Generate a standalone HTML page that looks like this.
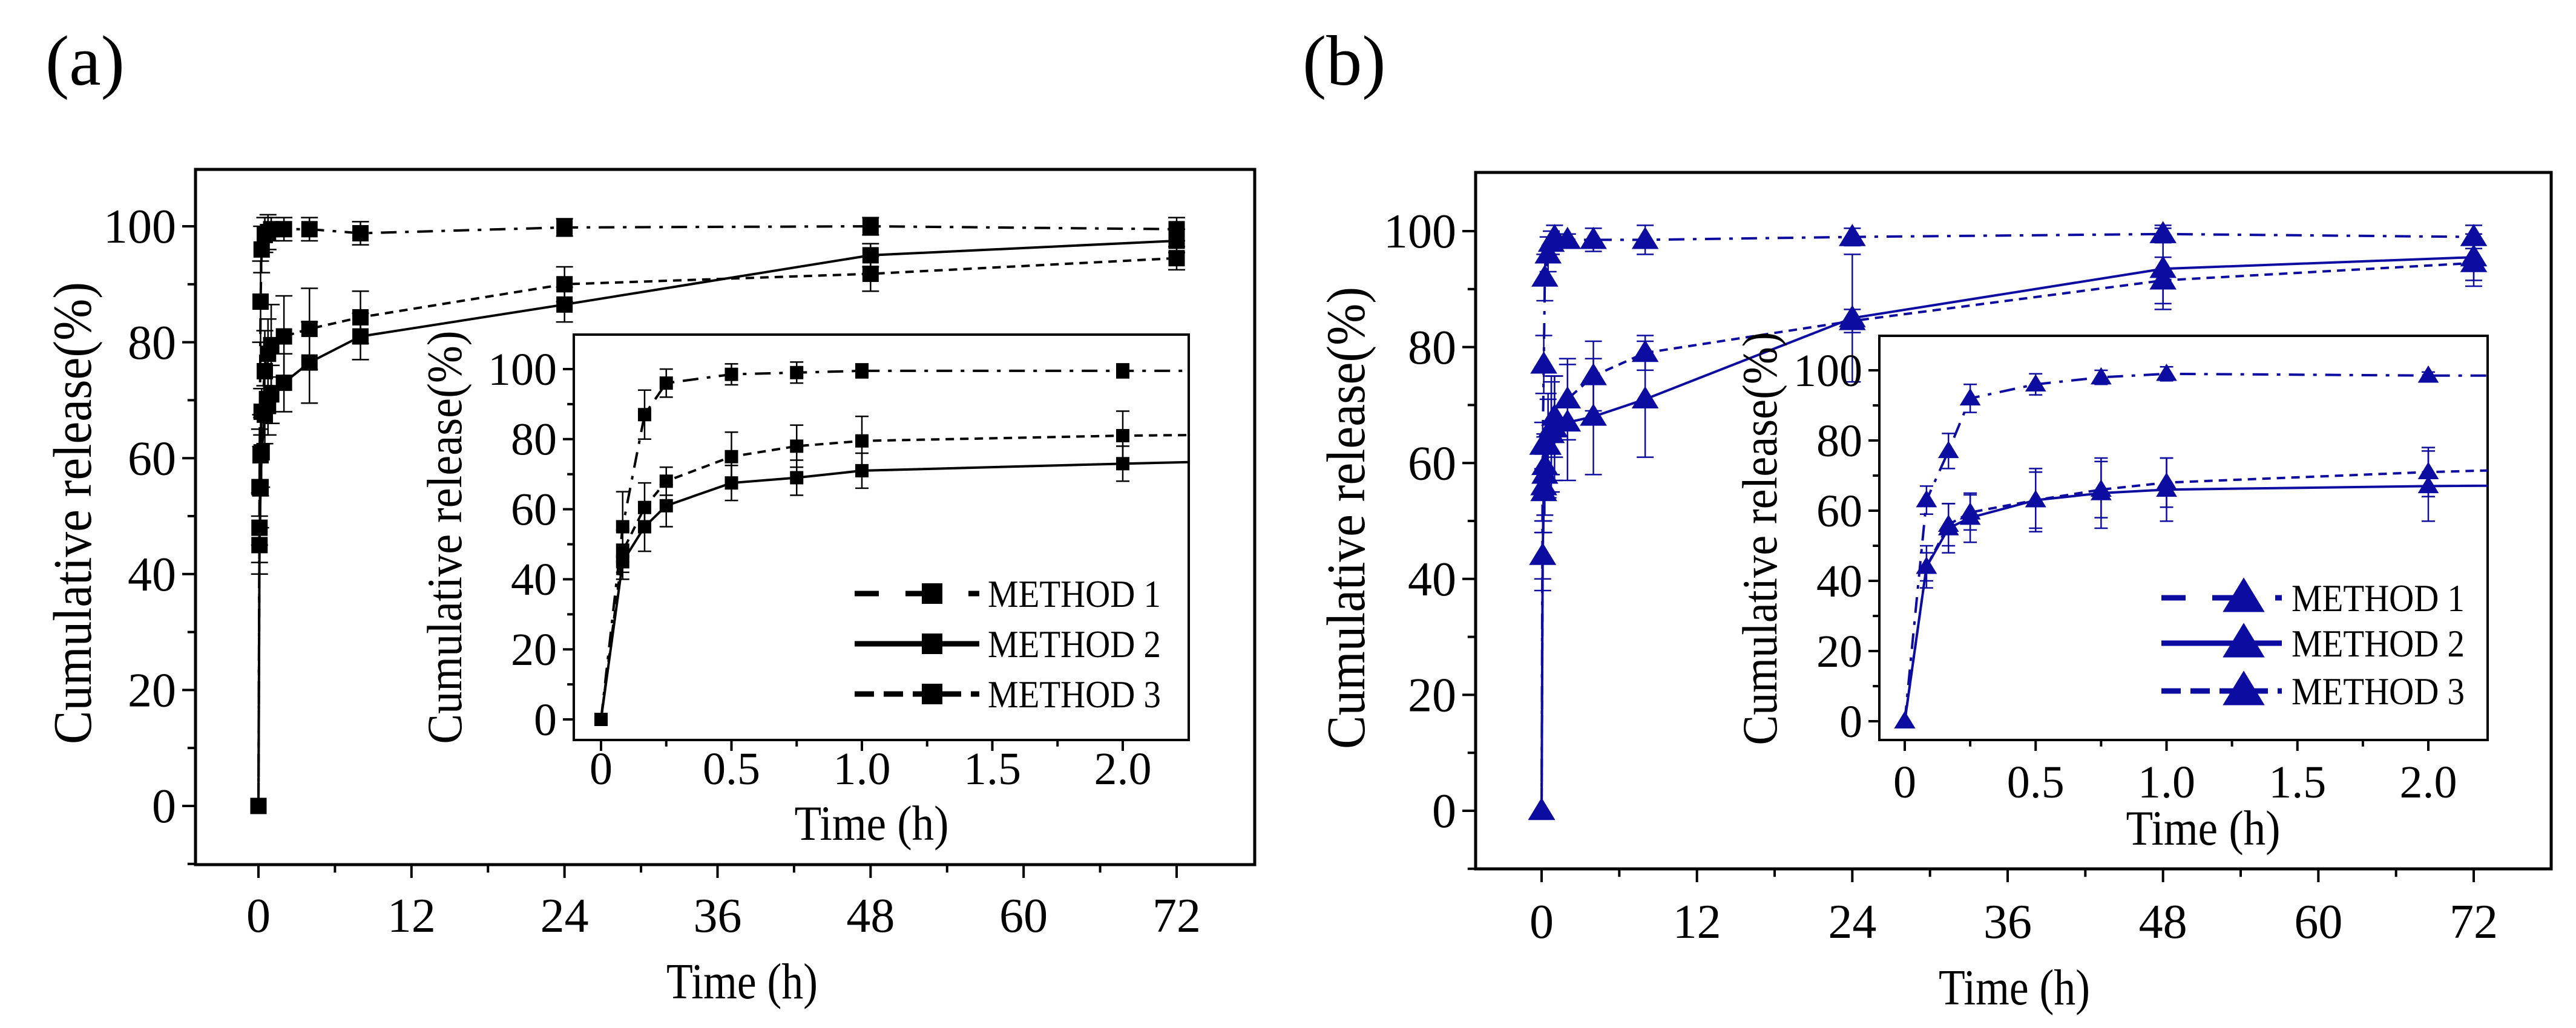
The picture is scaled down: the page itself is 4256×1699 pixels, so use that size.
<!DOCTYPE html>
<html><head><meta charset="utf-8"><style>
html,body{margin:0;padding:0;background:#fff;}
svg{display:block;}
text{font-family:"Liberation Serif","DejaVu Serif",serif;fill:#000;}
</style></head><body>
<svg id="fig" width="4256" height="1699" viewBox="0 0 4256 1699" xmlns="http://www.w3.org/2000/svg">
<rect width="4256" height="1699" fill="#fff"/>
<text x="75" y="140" font-size="118" font-family="Liberation Serif, serif">(a)</text>
<text x="2152" y="140" font-size="118" font-family="Liberation Serif, serif">(b)</text>
<g id="pa"></g>
<g id="pb"></g>
</svg>
<script>
const times = [0, 0.083, 0.167, 0.25, 0.5, 0.75, 1, 2, 4, 8, 24, 48, 72];
const xTicksMain = [0, 12, 24, 36, 48, 60, 72];
const yTicks = [0, 20, 40, 60, 80, 100];
const xTicksInset = [0, 0.5, 1.0, 1.5, 2.0];
const xTickLabelsInset = ["0", "0.5", "1.0", "1.5", "2.0"];
const seriesNames = ["METHOD 1", "METHOD 2", "METHOD 3"];
// Panel (a)
const aM1 = [0, 55, 87, 96, 98.5, 99, 99.5, 99.5, 99.5, 98.8, 99.8, 100, 99.5];
const aM2 = [0, 45, 55, 61, 67.5, 69, 71, 73, 76.5, 81, 86.5, 95, 97.5];
const aM3 = [0, 48, 60.5, 68, 75, 78, 79.5, 81, 82.3, 84.3, 90, 91.8, 94.5];
const aE1 = [0, 10, 7, 4, 3, 3, 2, 2, 2, 2, 1.5, 1.5, 2];
const aE2 = [0, 5, 7, 6, 5, 5, 5, 5, 7, 4, 3, 2, 2];
const aE3 = [0, 6, 7, 4, 7, 6, 7, 7, 7, 4.5, 3, 3, 2];
// Panel (b)
const bM1 = [0, 63, 77, 92, 96, 98, 99, 98.5, 98.5, 98.5, 99, 99.5, 99];
const bM2 = [0, 44, 55, 58, 63, 65, 66, 67, 68, 71, 85, 93.5, 95.5];
const bM3 = [0, 44, 56, 59.5, 63, 66, 68, 71, 75, 79, 84.5, 91.5, 94.5];
const bE1 = [0, 4, 5, 4, 3, 2, 2, 1, 2, 2.5, 1.5, 1.5, 2];
const bE2 = [0, 6, 7, 7, 9, 10, 9, 10, 10, 10, 11, 7, 4];
const bE3 = [0, 4, 6, 5, 8, 8, 7, 7, 6, 3, 2, 4, 4];

const NS = "http://www.w3.org/2000/svg";
const FF = "Liberation Serif, serif";
function mk(tag, parent, attrs) {
  const e = document.createElementNS(NS, tag);
  for (const k in attrs) e.setAttribute(k, attrs[k]);
  if (tag === "text") e.setAttribute("font-family", FF);
  parent.appendChild(e);
  return e;
}
const dashes = ["26 14 6 14", "", "14 10"];

function marker(g, shape, x, y, s, col) {
  let m;
  if (shape === "sq") {
    m = mk("rect", g, {x: x - s / 2, y: y - s / 2, width: s, height: s, fill: col});
  } else {
    m = mk("polygon", g, {points: `${x},${y - s * 0.6} ${x - s * 0.62},${y + s * 0.42} ${x + s * 0.62},${y + s * 0.42}`, fill: col});
  }
  
  
  return m;
}

function axesBox(g, c) {
  const fr = mk("rect", g, {x: c.L, y: c.T, width: c.R - c.L, height: c.B - c.T, fill: "none", stroke: "#000", "stroke-width": c.fw});
  
  
}

function drawPlot(root, c) {
  const g = mk("g", root, {});
  
  
  const X = v => c.x0 + (v - c.xa) * c.xs;
  const Y = v => c.y0 - v * c.ys;
  if (c.bg) mk("rect", g, {x: c.L, y: c.T, width: c.R - c.L, height: c.B - c.T, fill: "#fff"});
  axesBox(g, c);
  for (let v = c.yMinTick; v <= 100; v += 10) {
    const major = v % 20 === 0;
    const t = mk("line", g, {x1: c.L, x2: c.L - (major ? c.tl : c.tl * 0.6), y1: Y(v), y2: Y(v), stroke: "#000", "stroke-width": 4});
    
    
  }
  yTicks.forEach(v => {
    const t = mk("text", g, {x: c.L - c.tl - 10, y: Y(v) + c.fs * 0.34, "font-size": c.fs, "text-anchor": "end"});
    t.textContent = String(v);
    
    
  });
  c.xt.forEach((v, i) => {
    const t = mk("line", g, {x1: X(v), x2: X(v), y1: c.B, y2: c.B + c.tl, stroke: "#000", "stroke-width": 4});
    
    
    if (i < c.xt.length - 1) {
      const mv = (v + c.xt[i + 1]) / 2;
      const m = mk("line", g, {x1: X(mv), x2: X(mv), y1: c.B, y2: c.B + c.tl * 0.6, stroke: "#000", "stroke-width": 4});
      
      
    }
    const l = mk("text", g, {x: X(v), y: c.xly, "font-size": c.fs, "text-anchor": "middle"});
    l.textContent = c.xtl[i];
    
    
  });
  const xl = mk("text", g, {x: c.xtx, y: c.xty, "font-size": c.tfs, "text-anchor": "middle", textLength: c.xtw, lengthAdjust: "spacingAndGlyphs"});
  xl.textContent = "Time (h)";
  
  
  const yl = mk("text", g, {x: 0, y: 0, "font-size": c.yfs, "text-anchor": "middle", textLength: c.ytw, lengthAdjust: "spacingAndGlyphs", transform: `translate(${c.ytx},${c.yty}) rotate(-90)`});
  yl.textContent = "Cumulative release(%)";
  
  
  const cid = c.id + "-clip";
  const cp = mk("clipPath", g, {id: cid});
  mk("rect", cp, {x: c.L, y: c.T - 40, width: c.R - c.L, height: c.B - c.T + 40});
  const sg = mk("g", g, {"clip-path": `url(#${cid})`});
  c.series.forEach((s, k) => {
    const pts = times.map((t, i) => [X(t), Y(s[i])]);
    const line = mk("polyline", sg, {points: pts.map(p => p.join(",")).join(" "), fill: "none", stroke: c.col, "stroke-width": c.lw, "stroke-dasharray": dashes[k]});
    
    
    times.forEach((t, i) => {
      if (c.inset && t > 2.3) return;
      const e = c.errs[k][i];
      if (e > 0) {
        const x = X(t), w = c.cap;
        const eb = mk("path", sg, {d: `M${x},${Y(s[i] + e)}V${Y(s[i] - e)}M${x - w},${Y(s[i] + e)}h${2 * w}M${x - w},${Y(s[i] - e)}h${2 * w}`, stroke: c.col, "stroke-width": 2.5, fill: "none"});
        
        
      }
      marker(sg, c.shape, X(t), Y(s[i]), c.ms, c.col);
    });
  });
  if (c.leg) {
    seriesNames.forEach((n, k) => {
      const y = c.leg.y[k];
      const ln = mk("line", g, {x1: c.leg.x1, x2: c.leg.x2, y1: y, y2: y, stroke: c.col, "stroke-width": 9, "stroke-dasharray": dashes[k] === "" ? "" : (k === 0 ? "40 44 20 0" : "32 16")});
      
      
      marker(g, c.shape, c.leg.mx, y, c.leg.ms, c.col);
      const t = mk("text", g, {x: c.leg.tx, y: y + 22, "font-size": 64, textLength: 286, lengthAdjust: "spacingAndGlyphs"});
      t.textContent = n;
      
      
    });
  }
}

const black = "#000", blue = "#0c0ca0";
drawPlot(document.getElementById("pa"), {id: "plot-a-main", L: 323, R: 2073, T: 280, B: 1429, x0: 427, xa: 0, xs: (1944 - 427) / 72, y0: 1332, ys: 9.58,
  yMinTick: -10, tl: 22, fs: 80, xt: xTicksMain, xtl: xTicksMain.map(String), xly: 1540, xtx: 1226, xty: 1650, xtw: 250, tfs: 84, yfs: 90, ytx: 150, yty: 848, ytw: 764,
  series: [aM1, aM2, aM3], errs: [aE1, aE2, aE3], col: black, lw: 4, cap: 14, ms: 27, shape: "sq", fw: 5});
drawPlot(document.getElementById("pa"), {id: "plot-a-inset", inset: true, bg: true, L: 948, R: 1964, T: 553, B: 1223, x0: 993, xa: 0, xs: (1855 - 993) / 2, y0: 1189, ys: 5.79,
  yMinTick: 0, tl: 18, fs: 76, xt: xTicksInset, xtl: xTickLabelsInset, xly: 1296, xtx: 1440, xty: 1388, xtw: 255, tfs: 82, yfs: 82, ytx: 762, yty: 888, ytw: 683,
  series: [aM1, aM2, aM3], errs: [aE1, aE2, aE3], col: black, lw: 4, cap: 11, ms: 22, shape: "sq", fw: 4,
  leg: {x1: 1412, x2: 1618, mx: 1540, ms: 34, tx: 1632, y: [981, 1064, 1147]}});
drawPlot(document.getElementById("pb"), {id: "plot-b-main", L: 2438, R: 4215, T: 285, B: 1436, x0: 2547, xa: 0, xs: (4087 - 2547) / 72, y0: 1340, ys: 9.58,
  yMinTick: -10, tl: 22, fs: 80, xt: xTicksMain, xtl: xTicksMain.map(String), xly: 1550, xtx: 3328, xty: 1660, xtw: 250, tfs: 84, yfs: 90, ytx: 2254, yty: 856, ytw: 764,
  series: [bM1, bM2, bM3], errs: [bE1, bE2, bE3], col: blue, lw: 4, cap: 14, ms: 36, shape: "tri", fw: 5});
drawPlot(document.getElementById("pb"), {id: "plot-b-inset", inset: true, bg: true, L: 3105, R: 4110, T: 555, B: 1223, x0: 3147, xa: 0, xs: (4012 - 3147) / 2, y0: 1192, ys: 5.8,
  yMinTick: 0, tl: 18, fs: 76, xt: xTicksInset, xtl: xTickLabelsInset, xly: 1318, xtx: 3640, xty: 1396, xtw: 255, tfs: 82, yfs: 82, ytx: 2935, yty: 890, ytw: 683,
  series: [bM1, bM2, bM3], errs: [bE1, bE2, bE3], col: blue, lw: 4, cap: 11, ms: 28, shape: "tri", fw: 4,
  leg: {x1: 3571, x2: 3770, mx: 3707, ms: 56, tx: 3786, y: [988, 1063, 1142]}});
</script>
</body></html>
